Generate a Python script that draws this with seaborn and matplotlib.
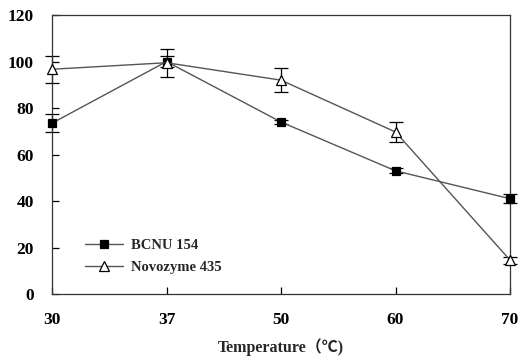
import numpy as np
import matplotlib
matplotlib.use("Agg")
import matplotlib.pyplot as plt
import pandas as pd
import seaborn as sns

# Данные
temps = ["30", "37", "50", "60", "70"]
bcnu = [73.5, 100.0, 74.0, 53.0, 41.0]
bcnu_err = [4.0, 2.5, 1.0, 1.0, 2.0]
novo = [96.7, 99.5, 92.0, 69.7, 14.6]
novo_err = [5.8, 6.0, 5.3, 4.3, 1.5]
y_ticks = [0, 20, 40, 60, 80, 100, 120]

sns.set_theme(style="ticks")
plt.rcParams["font.family"] = ["Liberation Serif", "Noto Sans CJK SC", "DejaVu Sans"]
plt.rcParams["font.weight"] = "bold"

pos = np.arange(len(temps))
df = pd.DataFrame({
    "pos": np.concatenate([pos, pos]),
    "val": bcnu + novo,
    "err": bcnu_err + novo_err,
    "series": ["BCNU 154"] * len(temps) + ["Novozyme 435"] * len(temps),
})

fig = plt.figure(figsize=(5.18, 3.59), dpi=100)
ax = fig.add_axes([0.1004, 0.181, 0.8842, 0.777])

styles = {
    "BCNU 154": dict(marker="s", mfc="black", mec="black", ms=6),
    "Novozyme 435": dict(marker="^", mfc="white", mec="black", ms=7.5),
}

for name, sub in df.groupby("series", sort=False):
    ax.errorbar(sub["pos"], sub["val"], yerr=sub["err"], fmt="none",
                ecolor="black", elinewidth=0.9, capsize=5, capthick=0.9,
                clip_on=False, zorder=2)
    sns.lineplot(data=sub, x="pos", y="val", ax=ax, color="#555555",
                 linewidth=1.0, label=name, clip_on=False, zorder=3,
                 markeredgewidth=0.9, **styles[name])

ax.set_xlim(pos[0], pos[-1])
ax.set_ylim(0, 120)
ax.set_xticks(pos)
ax.set_xticklabels(temps)
ax.set_yticks(y_ticks)
ax.tick_params(axis="both", direction="in", length=5, width=0.9,
               labelsize=12.5, colors="black")
ax.tick_params(axis="x", pad=13)
ax.tick_params(axis="y", pad=13)
for lab in ax.get_xticklabels() + ax.get_yticklabels():
    lab.set_fontweight("bold")
for s in ax.spines.values():
    s.set_linewidth(0.9)
    s.set_color("#333333")

ax.set_xlabel("Temperature（℃)", fontsize=11.5, fontweight="bold", labelpad=7)
ax.set_ylabel("")

leg = ax.legend(loc="lower left", bbox_to_anchor=(0.06, 0.05), borderaxespad=0,
                frameon=False, handlelength=2.6, handletextpad=0.5,
                labelspacing=0.64, prop={"weight": "bold", "size": 10.5})

fig.savefig("out.png", dpi=100)
